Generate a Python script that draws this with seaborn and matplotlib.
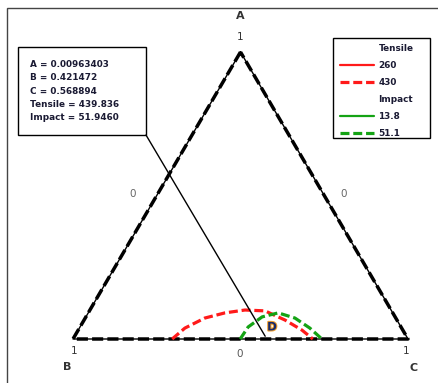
import numpy as np
import matplotlib.pyplot as plt
import matplotlib.patches as patches
import matplotlib.patheffects as pe
from matplotlib.lines import Line2D
import seaborn as sns

# Mixture components (corner labels) and their corner values
corner_names = ["A", "B", "C"]
corner_A = [1.0, 0.0, 0.0]
corner_C = [0.0, 0.0, 1.0]

# Contour Tensile = 430 (as A and C fractions; B = 1 - A - C)
tensile_430_A = [0.0, 0.038, 0.073, 0.091, 0.101, 0.098, 0.066, 0.031, 0.0]
tensile_430_C = [0.296, 0.315, 0.357, 0.408, 0.463, 0.524, 0.600, 0.668, 0.716]

# Contour Impact = 51.1
impact_51_A = [0.0, 0.042, 0.077, 0.091, 0.073, 0.038, 0.0]
impact_51_C = [0.499, 0.502, 0.526, 0.567, 0.626, 0.688, 0.743]

# Legend levels
tensile_levels = ["260", "430"]
impact_levels = ["13.8", "51.1"]

# Optimum point shown with the flag box
opt_A = 0.00963403
opt_B = 0.421472
opt_C = 0.568894
opt_tensile = 439.836
opt_impact = 51.9460

W, H = 438, 383
RED = "#ff1a1a"
GREEN = "#14a314"
TXT = "#1a1a33"


def to_xy(a, c):
    # ternary -> plane: B bottom left, C bottom right, A on top
    a = np.asarray(a, dtype=float)
    c = np.asarray(c, dtype=float)
    return c + a / 2, a


def fig_px(x, y):
    return x / W, 1 - y / H


sns.set_style("white")
fig = plt.figure(figsize=(W / 100, H / 100), dpi=100)
ax = fig.add_axes([0, 0, 1, 1])
ax.set_xlim(-73 / 335, (W - 73) / 335)
ax.set_ylim(-(H - 339) / 287, 1 + 52 / 287)
ax.axis("off")

# Outer frame of the picture (only top and left edges visible)
fig.add_artist(patches.Rectangle(fig_px(7, H + 5), 1.2, (H - 3) / H,
                                 transform=fig.transFigure, fill=False,
                                 edgecolor="#444444", lw=1.0))

# Triangle edges: thin solid line under a thick dashed one
tx, ty = to_xy(corner_A + [corner_A[0]], corner_C + [corner_C[0]])
ax.plot(tx, ty, color="black", lw=1.0, zorder=2)
ax.plot(tx, ty, color="black", lw=2.5, linestyle=(0, (3.2, 1.2)), zorder=2)

# Contour lines
x, y = to_xy(tensile_430_A, tensile_430_C)
sns.lineplot(x=x, y=y, sort=False, color=RED, lw=2.3,
             linestyle=(0, (2.8, 1.2)), ax=ax, zorder=3)
x, y = to_xy(impact_51_A, impact_51_C)
sns.lineplot(x=x, y=y, sort=False, color=GREEN, lw=2.3,
             linestyle=(0, (2.8, 1.2)), ax=ax, zorder=4)

# Flag with the optimum values
fig.add_artist(patches.Rectangle(fig_px(18, 135), 128 / W, 88 / H,
                                 transform=fig.transFigure, fill=False,
                                 edgecolor="black", lw=1.0))
flag_text = "\n".join([
    f"A = {opt_A:.8f}",
    f"B = {opt_B:.6f}",
    f"C = {opt_C:.6f}",
    f"Tensile = {opt_tensile:.3f}",
    f"Impact = {opt_impact:.4f}",
])
fig.text(*fig_px(30, 60), flag_text, ha="left", va="top", fontsize=6.4,
         fontweight="bold", color=TXT, linespacing=1.62)
px, py = to_xy(opt_A, opt_C)
ax.annotate("", xy=(px, py), xytext=fig_px(146, 135),
            textcoords="figure fraction",
            arrowprops=dict(arrowstyle="-", color="black", lw=1.0,
                            shrinkA=0, shrinkB=0))

# Design point label
fig.text(*fig_px(272, 327), "D", ha="center", va="center", fontsize=8.5,
         fontweight="bold", color="#1a2a66",
         path_effects=[pe.withStroke(linewidth=1.5, foreground="#f0a030")])

# Corner / axis labels
fig.text(*fig_px(240, 16), corner_names[0], ha="center", va="center",
         fontsize=8, fontweight="bold", color="#333333")
fig.text(*fig_px(240, 37), "1", ha="center", va="center", fontsize=7.5,
         color="#333333")
fig.text(*fig_px(74, 351), "1", ha="center", va="center", fontsize=7.5,
         color="#333333")
fig.text(*fig_px(67, 367), corner_names[1], ha="center", va="center",
         fontsize=8, fontweight="bold", color="#333333")
fig.text(*fig_px(240, 354), "0", ha="center", va="center", fontsize=7.5,
         color="#555555")
fig.text(*fig_px(406, 351), "1", ha="center", va="center", fontsize=7.5,
         color="#333333")
fig.text(*fig_px(414, 368), corner_names[2], ha="center", va="center",
         fontsize=8, fontweight="bold", color="#333333")
fig.text(*fig_px(133, 194), "0", ha="center", va="center", fontsize=7.5,
         color="#666666")
fig.text(*fig_px(344, 194), "0", ha="center", va="center", fontsize=7.5,
         color="#666666")

# Legend
fig.add_artist(patches.Rectangle(fig_px(333, 138), 97 / W, 100 / H,
                                 transform=fig.transFigure, fill=False,
                                 edgecolor="black", lw=1.0))
handles = [
    Line2D([], [], color="none"),
    Line2D([], [], color=RED, lw=1.6),
    Line2D([], [], color=RED, lw=2.3, linestyle=(0, (2.8, 1.2))),
    Line2D([], [], color="none"),
    Line2D([], [], color=GREEN, lw=1.6),
    Line2D([], [], color=GREEN, lw=2.3, linestyle=(0, (2.8, 1.2))),
]
labels = ["Tensile"] + tensile_levels + ["Impact"] + impact_levels
leg = fig.legend(handles, labels, loc="upper left",
                 bbox_to_anchor=fig_px(338, 42), frameon=False,
                 prop={"size": 6.4, "weight": "bold"}, handlelength=3.9,
                 handletextpad=0.45, labelspacing=0.9, borderpad=0.2,
                 borderaxespad=0)
for t in leg.get_texts():
    t.set_color(TXT)

fig.savefig("out.png", dpi=100)
